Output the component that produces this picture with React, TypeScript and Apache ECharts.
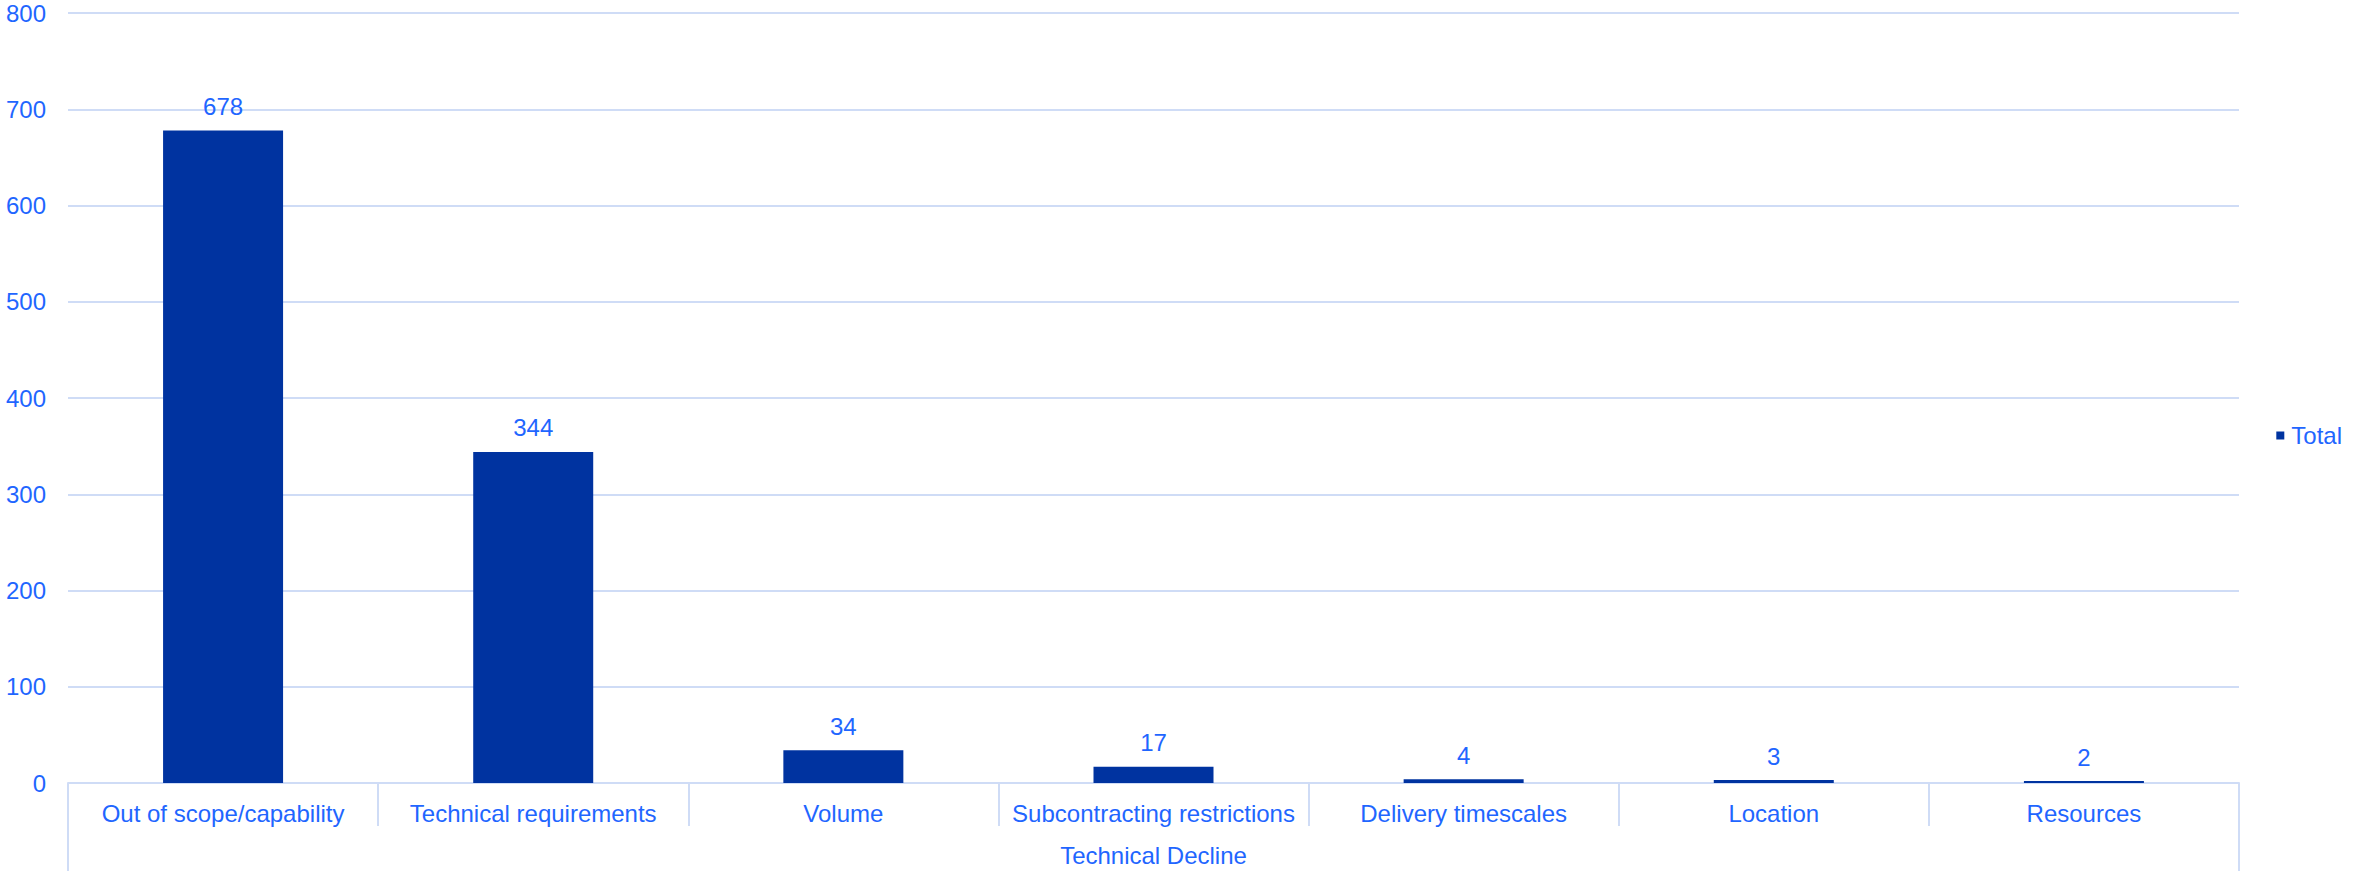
import React, { useEffect, useRef } from "react";
import * as echarts from "echarts";

const categories: string[] = [
  "Out of scope/capability",
  "Technical requirements",
  "Volume",
  "Subcontracting restrictions",
  "Delivery timescales",
  "Location",
  "Resources",
];
const groupLabels: string[] = ["Technical Decline"];
const totals: number[] = [678, 344, 34, 17, 4, 3, 2];
const yTicks = { min: 0, max: 800, interval: 100 };

const TEXT_BLUE = "#1f66ff";
const BAR_BLUE = "#0033a0";
const LINE_BLUE = "#cfdcf6";
const FONT = "'Liberation Sans', Arial, sans-serif";

export default function App() {
  const ref = useRef<HTMLDivElement>(null);

  useEffect(() => {
    document.body.style.margin = "0";
    if (!ref.current) return;
    const chart = echarts.init(ref.current, undefined, { renderer: "svg" });
    chart.setOption({
      animation: false,
      backgroundColor: "#ffffff",
      textStyle: { fontFamily: FONT },
      grid: { left: 68, right: 115, top: 13, bottom: 88, containLabel: false },
      legend: {
        data: ["Total"],
        orient: "vertical",
        right: 7,
        top: "middle",
        icon: "rect",
        itemWidth: 8,
        itemHeight: 8,
        itemGap: 6,
        textStyle: {
          color: TEXT_BLUE,
          fontSize: 24,
          fontFamily: FONT,
          padding: [0, 0, 0, 2],
        },
      },
      xAxis: [
        {
          type: "category",
          data: categories,
          position: "bottom",
          axisLine: { show: true, lineStyle: { color: LINE_BLUE, width: 2 } },
          axisTick: {
            show: true,
            alignWithLabel: false,
            interval: 0,
            length: 43,
            lineStyle: { color: LINE_BLUE, width: 2 },
          },
          axisLabel: {
            interval: 0,
            margin: 18,
            color: TEXT_BLUE,
            fontSize: 24,
            fontFamily: FONT,
          },
          splitLine: { show: false },
        },
        {
          type: "category",
          data: groupLabels,
          position: "bottom",
          axisLine: { show: false },
          axisTick: {
            show: true,
            alignWithLabel: false,
            length: 88,
            lineStyle: { color: LINE_BLUE, width: 2 },
          },
          axisLabel: {
            margin: 60,
            color: TEXT_BLUE,
            fontSize: 24,
            fontFamily: FONT,
          },
          splitLine: { show: false },
        },
      ],
      yAxis: {
        type: "value",
        min: yTicks.min,
        max: yTicks.max,
        interval: yTicks.interval,
        axisLine: { show: false },
        axisTick: { show: false },
        axisLabel: {
          margin: 22,
          color: TEXT_BLUE,
          fontSize: 24,
          fontFamily: FONT,
        },
        splitLine: { show: true, lineStyle: { color: LINE_BLUE, width: 2 } },
      },
      series: [
        {
          name: "Total",
          type: "bar",
          xAxisIndex: 0,
          data: totals,
          barWidth: 120,
          itemStyle: { color: BAR_BLUE },
          label: {
            show: true,
            position: "top",
            distance: 12,
            color: TEXT_BLUE,
            fontSize: 24,
            fontFamily: FONT,
          },
        },
      ],
    });
    return () => chart.dispose();
  }, []);

  return <div ref={ref} style={{ width: 2354, height: 871 }} />;
}
